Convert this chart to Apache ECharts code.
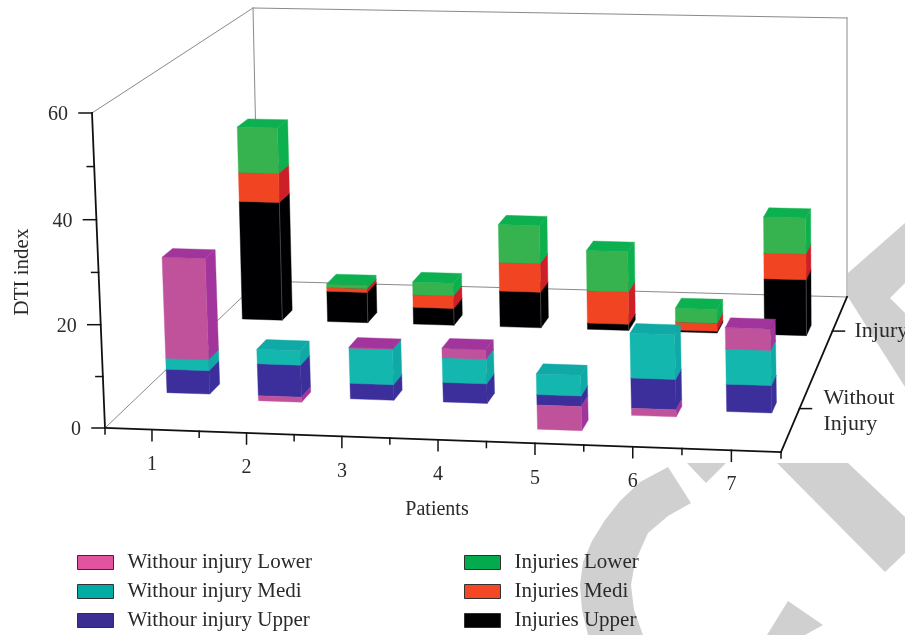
<!DOCTYPE html>
<html>
<head>
<meta charset="utf-8">
<style>html,body{margin:0;padding:0;background:#fff}#c{width:905px;height:635px}</style>
<script src="https://cdn.jsdelivr.net/npm/echarts@6/dist/echarts.min.js"></script>
</head>
<body>
<div id="c"></div>
<script>
// ---- data ----
const patients = [1, 2, 3, 4, 5, 6, 7];
const valueTicks = [0, 20, 40, 60];
const valueMinorTicks = [10, 30, 50];
const rowLabels = ['Without\nInjury', 'Injury'];
const withoutUpper = [4.7, 6.4, 3.1, 3.9, 2.1, 6.0, 5.4];
const withoutMedi  = [2.2, 2.9, 7.0, 4.9, 4.1, 8.8, 6.9];
const withoutLower = [20.1, -1.0, 0.2, 1.9, -4.8, -1.4, 4.2];
const injuryUpper  = [25.2, 6.5, 3.6, 7.6, 1.3, 0.4, 11.8];
const injuryMedi   = [6.1, 0.8, 2.7, 6.1, 6.9, 1.7, 5.4];
const injuryLower  = [9.6, 0.8, 2.7, 8.0, 8.5, 2.9, 7.5];
const nameWithoutLower = 'Withour injury Lower', nameWithoutMedi = 'Withour injury Medi', nameWithoutUpper = 'Withour injury Upper';
const nameInjuryLower = 'Injuries Lower', nameInjuryMedi = 'Injuries Medi', nameInjuryUpper = 'Injuries Upper';

// ---- 3D frame (layout) ----
const W = 905, H = 635;
const FONT = '"Liberation Serif", serif', INK = '#2b2a29';
const corners = {          // floor and top of the plot box
  f0: [105, 428], f1: [781, 452], b0: [259, 281], b1: [847, 297],
  tf0: [92, 113], tf1: [775, 130], tb0: [253, 8], tb1: [847, 18]
};
const rowDepth = [0.28, 0.78], barDepth = 0.068, barWidth = 0.47;
const perspU = 0.971, perspW = 0.976;

function lerp(a, b, t) { return [a[0] + (b[0] - a[0]) * t, a[1] + (b[1] - a[1]) * t]; }
function foreshorten(t, a) { return a * t / (1 + (a - 1) * t); }
// Hidden cartesian scales give u and w, then the box projection places them.
function projector(api) {
  return function (patient, v, value) {
    const c = api.coord([patient, value]);
    const u = foreshorten(c[0] / W, perspU), w = foreshorten((H - c[1]) / H, perspW);
    const floor = lerp(lerp(corners.f0, corners.f1, u), lerp(corners.b0, corners.b1, u), v);
    const top = lerp(lerp(corners.tf0, corners.tf1, u), lerp(corners.tb0, corners.tb1, u), v);
    return lerp(floor, top, w);
  };
}

function stacked(layers) {   // positive values pile up from 0, negative ones go down from 0
  return layers.map(function (vals, li) {
    return vals.map(function (val, i) {
      if (val < 0) return [patients[i], 0, val];
      let base = 0;
      for (let k = 0; k < li; k++) if (layers[k][i] > 0) base += layers[k][i];
      return [patients[i], base, base + val];
    });
  });
}
const withoutStack = stacked([withoutUpper, withoutMedi, withoutLower]);
const injuryStack = stacked([injuryUpper, injuryMedi, injuryLower]);

function barRender(row, shade) {
  return function (params, api) {
    const P = projector(api);
    const p = api.value(0), a = api.value(1), b = api.value(2);
    const lo = Math.min(a, b), hi = Math.max(a, b);
    const x0 = p - barWidth / 2, x1 = p + barWidth / 2;
    const v0 = rowDepth[row] - barDepth / 2, v1 = rowDepth[row] + barDepth / 2;
    const poly = function (pts, fill) {
      return { type: 'polygon', shape: { points: pts }, style: { fill: fill, stroke: fill, lineWidth: 0.4 } };
    };
    const kids = [
      poly([P(x1, v0, lo), P(x1, v1, lo), P(x1, v1, hi), P(x1, v0, hi)], shade.side),
      poly([P(x0, v0, lo), P(x1, v0, lo), P(x1, v0, hi), P(x0, v0, hi)], shade.front)
    ];
    if (b >= 0) kids.push(poly([P(x0, v0, hi), P(x1, v0, hi), P(x1, v1, hi), P(x0, v1, hi)], shade.side));
    if (shade.edge) kids.push({ type: 'line', shape: { x1: P(x1, v0, lo)[0], y1: P(x1, v0, lo)[1], x2: P(x1, v0, hi)[0], y2: P(x1, v0, hi)[1] }, style: { stroke: shade.edge, lineWidth: 0.7 } });
    return { type: 'group', children: kids };
  };
}

function axesRender(params, api) {
  const P = projector(api);
  const kids = [];
  const seg = function (a, b, color, width) {
    kids.push({ type: 'line', shape: { x1: a[0], y1: a[1], x2: b[0], y2: b[1] }, style: { stroke: color, lineWidth: width, lineCap: 'square' } });
  };
  const txt = function (s, x, y, size, align, rot) {
    kids.push({ type: 'text', x: x, y: y, rotation: rot || 0, style: { text: s, x: 0, y: 0, font: size + 'px ' + FONT, fill: INK, align: align || 'center', verticalAlign: 'middle', lineHeight: 26 } });
  };
  const xa = 0.5, xb = 7.5;
  // thin walls
  const G = '#8a8a8a';
  seg(P(xa, 0, 60), P(xa, 1, 60), G, 1);
  seg(P(xa, 1, 60), P(xb, 1, 60), G, 1);
  seg(P(xb, 1, 60), P(xb, 1, 0), G, 1);
  seg(P(xa, 1, 60), P(xa, 1, 0), G, 1);
  seg(P(xa, 0, 0), P(xa, 1, 0), G, 1);
  seg(P(xa, 1, 0), P(xb, 1, 0), G, 1);
  // bold axes
  const K = '#111';
  seg(P(xa, 0, 0), P(xa, 0, 60), K, 1.8);
  seg(P(xa, 0, 0), P(xb, 0, 0), K, 1.8);
  seg(P(xb, 0, 0), P(xb, 1, 0), K, 1.8);
  valueTicks.forEach(function (t) {
    const q = P(xa, 0, t);
    seg(q, [q[0] - 13, q[1]], K, 1.5);
    txt(String(t), q[0] - 24, q[1] + 2, 20, 'right');
  });
  valueMinorTicks.forEach(function (t) {
    const q = P(xa, 0, t);
    seg(q, [q[0] - 7, q[1]], K, 1.5);
  });
  patients.forEach(function (p) {
    const q = P(p, 0, 0);
    seg(q, [q[0], q[1] + 11], K, 1.5);
    txt(String(p), q[0], q[1] + 35, 20);
  });
  [0.5].concat(patients.map(function (p) { return p + 0.5; })).forEach(function (p) {
    const q = P(p, 0, 0);
    seg(q, [q[0], q[1] + 6], K, 1.5);
  });
  rowDepth.forEach(function (v, i) {
    const q = P(xb, v, 0);
    seg(q, [q[0] + 12, q[1]], K, 1.5);
  });
  const w = P(xb, rowDepth[0], 0), j = P(xb, rowDepth[1], 0);
  txt(rowLabels[0], w[0] + 24, w[1] + 3, 22, 'left');
  txt(rowLabels[1], j[0] + 22, j[1], 22, 'left');
  txt('Patients', 437, 510, 20);
  txt('DTI index', 22, 272, 21, 'center', Math.PI / 2);
  return { type: 'group', children: kids };
}

function bars(name, data, row, color, shade) {
  return {
    name: name, type: 'custom', coordinateSystem: 'cartesian2d', data: data,
    encode: { x: 0, y: [1, 2] }, itemStyle: { color: color }, silent: true, z: 3,
    renderItem: barRender(row, shade)
  };
}

const shades = {
  pink: { front: '#c0529c', side: '#a2359b' },
  teal: { front: '#14b7ae', side: '#10a9a6' },
  blue: { front: '#3c2f9b', side: '#3b2f9b' },
  green: { front: '#36b34f', side: '#0cb04f' },
  red: { front: '#f04423', side: '#cd1f27' },
  black: { front: '#000002', side: '#000002', edge: '#555' }
};

const legendCommon = {
  orient: 'vertical', padding: 0, itemWidth: 36, itemHeight: 14, itemGap: 8, selectedMode: false,
  icon: 'rect', itemStyle: { borderColor: '#33312f', borderWidth: 1 },
  textStyle: { fontFamily: FONT, fontSize: 21, color: INK, padding: [0, 0, 0, 9] }
};

const chart = echarts.init(document.getElementById('c'), null, { renderer: 'canvas' });
chart.setOption({
  animation: false,
  backgroundColor: '#fff',
  grid: { left: 0, right: 0, top: 0, bottom: 0 },
  xAxis: { type: 'value', min: 0.5 , max: 7.5, show: false },
  yAxis: { type: 'value', min: 0, max: 60, show: false },
  legend: [
    Object.assign({ left: 77, top: 552, height: 83, data: [nameWithoutLower, nameWithoutMedi, nameWithoutUpper] }, legendCommon),
    Object.assign({ left: 464, top: 552, height: 83, data: [nameInjuryLower, nameInjuryMedi, nameInjuryUpper] }, legendCommon)
  ],
  graphic: { elements: [
    [[905,223],[848,273],[848,297],[905,387],[905,313],[890,298],[905,283]],
    [[777,463],[848,463],[905,517],[905,553],[885,572]],
    [[687,463],[726,463],[706,483]],
    [[668,467],[640,482],[620,501],[605,520],[592,541],[583,562],[580,585],[582,610],[588,635],[643,635],[634,610],[631,585],[635,562],[648,533],[668,516],[691,503]],
    [[788,601],[823,625],[805,635],[767,635]]
  ].map(function (pts) {
    return { type: 'polygon', shape: { points: pts }, style: { fill: '#d0d0d0' }, silent: true, z: 0 };
  }) },
  series: [
    { name: 'axes', type: 'custom', coordinateSystem: 'cartesian2d', data: [[0.5, 0, 0]], encode: { x: 0, y: [1, 2] }, silent: true, z: 2, renderItem: axesRender },
    bars(nameInjuryUpper, injuryStack[0], 1, '#020203', shades.black),
    bars(nameInjuryMedi, injuryStack[1], 1, '#f44725', shades.red),
    bars(nameInjuryLower, injuryStack[2], 1, '#04ab4e', shades.green),
    bars(nameWithoutUpper, withoutStack[0], 0, '#3c2f92', shades.blue),
    bars(nameWithoutMedi, withoutStack[1], 0, '#00aca4', shades.teal),
    bars(nameWithoutLower, withoutStack[2], 0, '#e354a0', shades.pink)
  ]
});
</script>
</body>
</html>
